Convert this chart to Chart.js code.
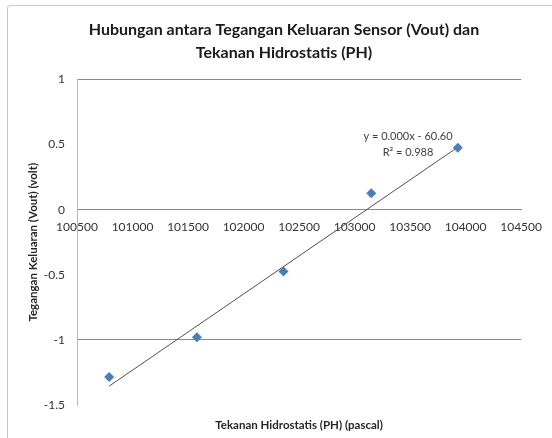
<!DOCTYPE html>
<html>
<head>
<meta charset="utf-8">
<script src="https://cdn.jsdelivr.net/npm/chart.js@4.4.1/dist/chart.umd.min.js"></script>
<style>
  html, body { margin: 0; padding: 0; background: #ffffff; overflow: hidden; width: 552px; height: 438px; }
  #frame { position: absolute; left: 7px; top: 5px; width: 620px; height: 520px; border: 1px solid #c8c8c8; border-radius: 3px; box-sizing: border-box; }
  #c { position: absolute; left: 0; top: 0; }
</style>
</head>
<body>
<div id="frame"></div>
<canvas id="c" width="552" height="438"></canvas>
<script>
// ---- data ----
const pressurePa = [100790, 101580, 102360, 103150, 103930];   // Tekanan Hidrostatis (PH) (pascal)
const voutVolt   = [-1.285, -0.98, -0.475, 0.125, 0.475];       // Tegangan Keluaran (Vout) (volt)
const trendX     = [100790, 103930];                            // Excel linear trendline ends
const trendY     = [-1.355, 0.48];
const xTicks     = [100500, 101000, 101500, 102000, 102500, 103000, 103500, 104000, 104500];
const yTicks     = [1, 0.5, 0, -0.5, -1, -1.5];
const titleLines = ['Hubungan antara Tegangan Keluaran Sensor (Vout) dan', 'Tekanan Hidrostatis (PH)'];
const xTitle     = 'Tekanan Hidrostatis (PH) (pascal)';
const yTitle     = 'Tegangan Keluaran (Vout) (volt)';
const eqLines    = ['y = 0.000x - 60.60', 'R\u00B2 = 0.988'];

const FONT = 'Lato, "Open Sans", "DejaVu Sans", sans-serif';

const measured = pressurePa.map((x, i) => ({ x: x, y: voutVolt[i] }));
const trend = trendX.map((x, i) => ({ x: x, y: trendY[i] }));

const equationPlugin = {
  id: 'equation',
  afterDatasetsDraw(chart) {
    const { ctx, chartArea } = chart;
    ctx.save();
    ctx.fillStyle = '#404040';
    ctx.font = '11px ' + FONT;
    ctx.textAlign = 'center';
    ctx.textBaseline = 'middle';
    const cx = chartArea.left + 331;
    const cy = chartArea.top + 57;
    ctx.fillText(eqLines[0], cx, cy);
    ctx.fillText(eqLines[1], cx, cy + 16);
    ctx.restore();
  }
};

new Chart(document.getElementById('c'), {
  type: 'scatter',
  data: {
    datasets: [
      {
        label: 'Vout',
        data: measured,
        pointStyle: 'rectRot',
        pointRadius: 5,
        pointHoverRadius: 5,
        backgroundColor: '#4a7ebb',
        borderColor: '#4a7ebb',
        borderWidth: 0,
        order: 1
      },
      {
        label: 'Linear',
        data: trend,
        showLine: true,
        pointRadius: 0,
        borderColor: '#505050',
        borderWidth: 1,
        fill: false,
        order: 2
      }
    ]
  },
  options: {
    responsive: false,
    animation: false,
    devicePixelRatio: 1,
    layout: { padding: { left: 40, right: 24, top: 0, bottom: 0 } },
    plugins: {
      legend: { display: false },
      tooltip: { enabled: false },
      title: {
        display: true,
        text: titleLines,
        color: '#1a1a1a',
        font: { family: FONT, size: 16, weight: 'bold', lineHeight: 1.45 },
        padding: { top: 18, bottom: 15 }
      }
    },
    scales: {
      x: {
        type: 'linear',
        position: { y: 0 },
        min: xTicks[0],
        max: xTicks[xTicks.length - 1],
        afterBuildTicks(scale) { scale.ticks = xTicks.map(v => ({ value: v })); },
        grid: { display: false, drawTicks: false },
        border: { display: true, color: '#8a8a8a', width: 1 },
        ticks: {
          color: '#333333',
          font: { family: FONT, size: 12 },
          padding: 10,
          maxRotation: 0,
          autoSkip: false,
          callback: (v) => String(v)
        }
      },
      xt: {
        type: 'linear',
        position: 'bottom',
        min: xTicks[0],
        max: xTicks[xTicks.length - 1],
        grid: { display: false, drawTicks: false },
        border: { display: false },
        ticks: { display: false },
        afterFit(scale) { scale.height = 33; },
        title: {
          display: true,
          text: xTitle,
          color: '#262626',
          font: { family: FONT, size: 11.5, weight: 'bold' },
          padding: { top: 0, bottom: 6 }
        }
      },
      y: {
        type: 'linear',
        position: 'left',
        min: -1.5,
        max: 1,
        afterBuildTicks(scale) { scale.ticks = yTicks.map(v => ({ value: v })); },
        afterFit(scale) { scale.width = 37; },
        grid: {
          drawTicks: false,
          color: (c) => (c.tick && Number.isInteger(c.tick.value) && c.tick.value !== 0) ? '#8a8a8a' : 'rgba(0,0,0,0)',
          lineWidth: 1
        },
        border: { display: true, color: '#b8b8b8', width: 1 },
        ticks: {
          color: '#333333',
          font: { family: FONT, size: 12 },
          padding: 12,
          callback: (v) => String(v)
        },
        title: {
          display: true,
          text: yTitle,
          color: '#262626',
          font: { family: FONT, size: 11.5, weight: 'bold' },
          padding: { top: -14, bottom: 0 }
        }
      }
    }
  },
  plugins: [equationPlugin]
});
</script>
</body>
</html>
